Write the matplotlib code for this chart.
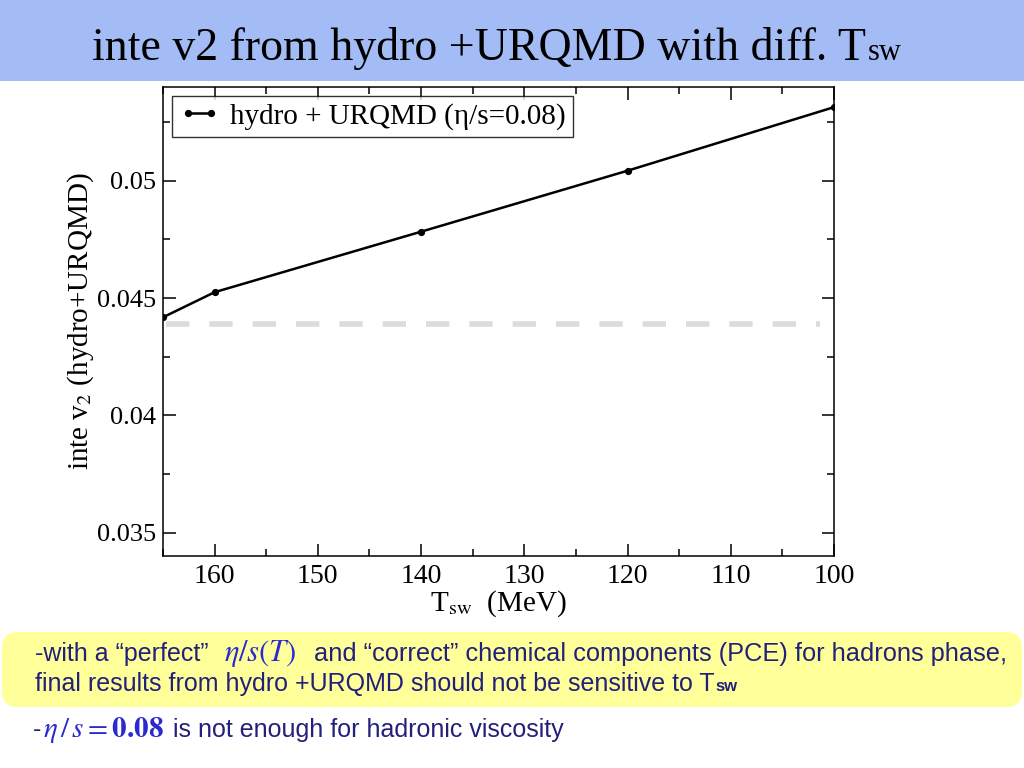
import matplotlib
matplotlib.use("Agg")
import matplotlib.pyplot as plt
from matplotlib.patches import Rectangle, FancyBboxPatch
from matplotlib.ticker import MultipleLocator

# ---------------- data ----------------
t_sw = [165, 160, 140, 120, 100]
v2_int = [0.04418, 0.04525, 0.04783, 0.05043, 0.05314]
ref_level = 0.0439
series_label = "hydro + URQMD (\u03b7/s=0.08)"
x_ticks = [160, 150, 140, 130, 120, 110, 100]
y_ticks = [0.035, 0.04, 0.045, 0.05]
y_tick_labels = ["0.035", "0.04", "0.045", "0.05"]

title_main = "inte v2 from hydro +URQMD with diff. T"
title_sub = "sw"

plt.rcParams["mathtext.fontset"] = "stix"
SERIF = ["Liberation Serif", "DejaVu Serif"]
SANS = ["Liberation Sans", "DejaVu Sans"]

fig = plt.figure(figsize=(10.24, 7.68), dpi=100)
fig.patch.set_facecolor("white")

# title banner
fig.add_artist(Rectangle((0, 1 - 81 / 768), 1, 81 / 768, transform=fig.transFigure,
                         facecolor="#a3bcf5", edgecolor="none", zorder=0))
t1 = fig.text(92 / 1024, 1 - 60 / 768, title_main, family=SERIF, fontsize=33,
              color="black", ha="left", va="baseline")
fig.canvas.draw()
r = fig.canvas.get_renderer()
bb = t1.get_window_extent(r)
fig.text((bb.x1 + 2) / 1024, 1 - 60 / 768, title_sub, family=SERIF, fontsize=22,
         color="black", ha="left", va="baseline")

# main axes
ax = fig.add_axes([163 / 1024, 1 - 556 / 768, 671 / 1024, 469 / 768])
ax.plot(t_sw, v2_int, color="black", lw=1.8, marker="o", ms=4.2,
        label=series_label, zorder=3)
ax.axhline(ref_level, xmin=0.004, xmax=0.979, color="#dcdcdc", lw=4,
           dashes=(4.2, 3.6), solid_capstyle="butt", dash_capstyle="butt", zorder=2)
ax.set_xlim(165, 100)
ax.set_ylim(0.034, 0.054)
ax.set_xticks(x_ticks)
ax.set_xticklabels([str(v) for v in x_ticks])
ax.set_yticks(y_ticks)
ax.set_yticklabels(y_tick_labels)
ax.xaxis.set_minor_locator(MultipleLocator(5))
ax.yaxis.set_minor_locator(MultipleLocator(0.0025))
ax.tick_params(which="both", direction="in", top=True, right=True, width=1.1)
ax.tick_params(which="major", length=9, pad=6)
ax.tick_params(axis="x", which="major", labelsize=20)
ax.tick_params(axis="y", which="major", labelsize=19, pad=5)
ax.tick_params(which="minor", length=5)
for lab in ax.get_xticklabels() + ax.get_yticklabels():
    lab.set_family(SERIF)
for s in ax.spines.values():
    s.set_linewidth(1.1)

ax.set_xlabel(r"T$_{\mathrm{sw}}$  (MeV)", family=SERIF, fontsize=21)
ax.xaxis.set_label_coords(0.5, -0.07)
ax.set_ylabel(r"inte v$_2$ (hydro+URQMD)", family=SERIF, fontsize=21)
ax.yaxis.set_label_coords(-0.1, 0.5)

leg = ax.legend(loc="upper left", numpoints=2, handlelength=1.4, handletextpad=0.35,
                borderpad=0.25, borderaxespad=0.3, fancybox=False,
                prop={"family": SERIF, "size": 21})
leg.get_frame().set_edgecolor("black")
leg.get_frame().set_linewidth(1.0)

# yellow note box
fig.add_artist(FancyBboxPatch((0.02, 0.61), 10.2, 0.75,
                              boxstyle="round,pad=0,rounding_size=0.16",
                              transform=fig.dpi_scale_trans,
                              facecolor="#ffff99", edgecolor="none", zorder=0))

TXT = "#22207a"
MATH = "#2a2ad0"

def put(x, y, s, **kw):
    return fig.text(x / 1024, 1 - y / 768, s, ha="left", va="baseline", **kw)

put(35, 661, "-with a \u201cperfect\u201d", family=SANS, fontsize=18, color=TXT)
put(224, 661, r"$\eta/s(T)$", fontsize=22, color=MATH)
put(314, 661, "and \u201ccorrect\u201d chemical components (PCE) for hadrons phase,",
    family=SANS, fontsize=18.3, color=TXT)
t2 = put(35, 691, "final results from hydro +URQMD should not be sensitive to T",
         family=SANS, fontsize=18, color=TXT)
fig.canvas.draw()
b2 = t2.get_window_extent(fig.canvas.get_renderer())
fig.text((b2.x1 + 1) / 1024, 1 - 691 / 768, "sw", ha="left", va="baseline",
         family=SANS, fontsize=12, fontweight="bold", color=TXT)

put(33, 737, "-", family=SANS, fontsize=18, color=TXT)
put(43, 737, r"$\eta\,/\,s=\mathbf{0.08}$", fontsize=21, color=MATH)
put(173, 737, "is not enough for hadronic viscosity", family=SANS, fontsize=18, color=TXT)

fig.savefig("out.png", dpi=100)
